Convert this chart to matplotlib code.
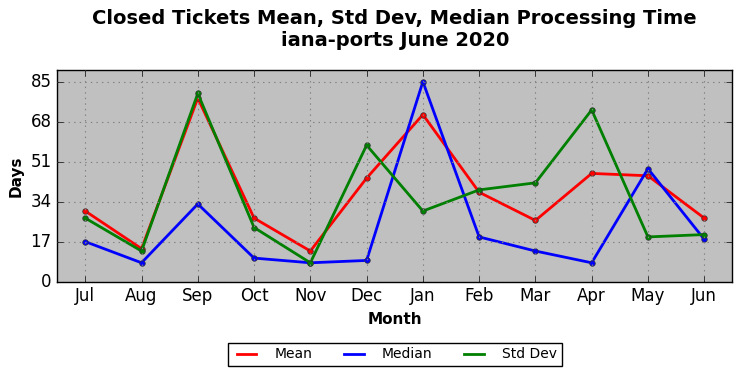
import matplotlib.pyplot as plt
from matplotlib.lines import Line2D

# ------------------------------
# Data
# ------------------------------

months = ["Jul", "Aug", "Sep", "Oct", "Nov", "Dec",
          "Jan", "Feb", "Mar", "Apr", "May", "Jun"]

mean_days = [30, 14, 78, 27, 13, 44, 71, 38, 26, 46, 45, 27]
median_days = [17, 8, 33, 10, 8, 9, 85, 19, 13, 8, 48, 18]
std_days = [27, 13, 80, 23, 8, 58, 30, 39, 42, 73, 19, 20]

yticks = [0, 17, 34, 51, 68, 85]

# ------------------------------
# Plot
# ------------------------------

plt.style.use("classic")

fig, ax = plt.subplots(figsize=(7.42, 3.78), dpi=100)
fig.patch.set_facecolor("white")
ax.set_facecolor("#c0c0c0")

x = range(len(months))
ax.plot(x, mean_days, color="red", lw=2, marker="o", ms=4, mec="#333333")
ax.plot(x, median_days, color="blue", lw=2, marker="o", ms=4, mec="#333333")
ax.plot(x, std_days, color="green", lw=2, marker="o", ms=4, mec="#333333")

ax.set_xlim(-0.5, 11.5)
ax.set_ylim(0, 90)
ax.set_xticks(list(x))
ax.set_xticklabels(months)
ax.set_yticks(yticks)
ax.grid(True, color="gray", linestyle=":", linewidth=0.8)

ax.set_xlabel("Month", fontsize=11, fontweight="bold")
ax.set_ylabel("Days", fontsize=11, fontweight="bold")
ax.set_title("Closed Tickets Mean, Std Dev, Median Processing Time\niana-ports June 2020",
             fontsize=14, fontweight="bold", y=1.078)

# legend without markers
handles = [Line2D([], [], color="red", lw=2),
           Line2D([], [], color="blue", lw=2),
           Line2D([], [], color="green", lw=2)]
ax.legend(handles, ["Mean", "Median", "Std Dev"],
          loc="upper center", bbox_to_anchor=(0.5, -0.255), ncol=3,
          fontsize=10, frameon=True, fancybox=False, handlelength=2.0,
          handletextpad=1.0, columnspacing=2.0, borderpad=0.35)

plt.subplots_adjust(left=0.077, right=0.987, top=0.815, bottom=0.255)
plt.savefig("out.png", dpi=100)
